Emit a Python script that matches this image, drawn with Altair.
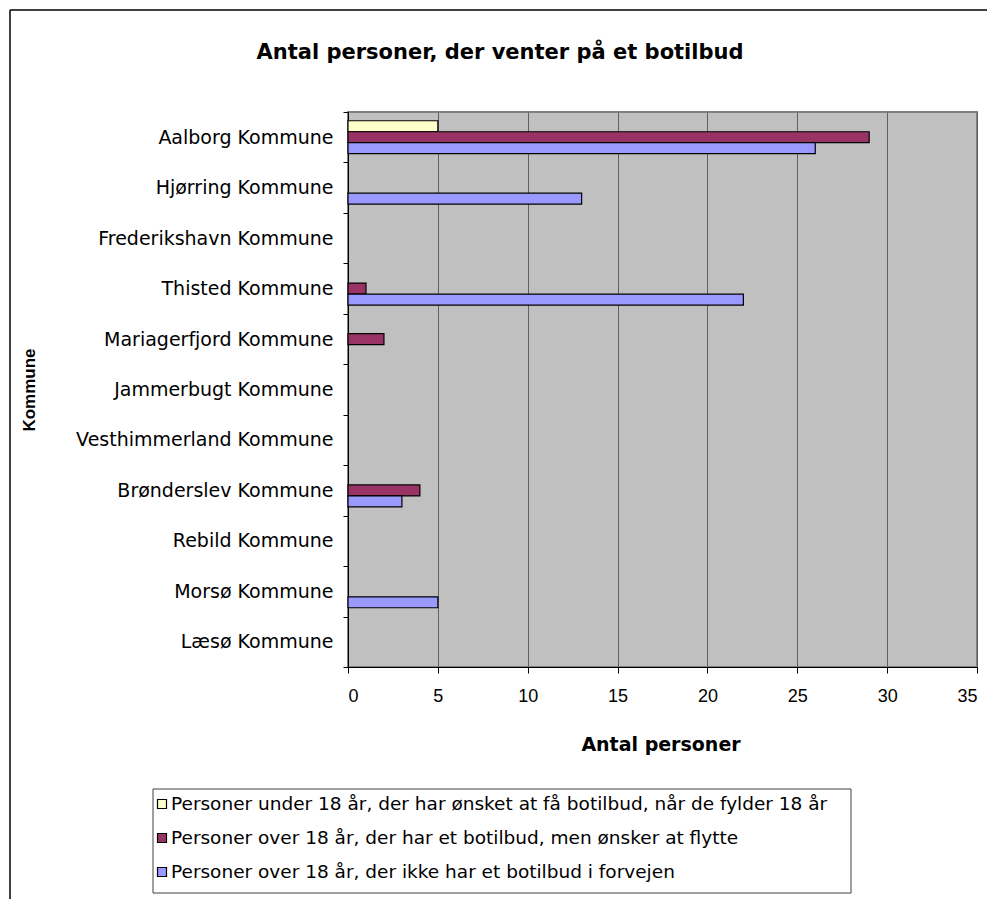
import altair as alt
import pandas as pd

kommuner = ["Aalborg Kommune", "Hjørring Kommune", "Frederikshavn Kommune", "Thisted Kommune",
            "Mariagerfjord Kommune", "Jammerbugt Kommune", "Vesthimmerland Kommune",
            "Brønderslev Kommune", "Rebild Kommune", "Morsø Kommune", "Læsø Kommune"]
series = ["Personer under 18 år, der har ønsket at få botilbud, når de fylder 18 år",
          "Personer over 18 år, der har et botilbud, men ønsker at flytte",
          "Personer over 18 år, der ikke har et botilbud i forvejen"]
under18 = [5, 0, 0, 0, 0, 0, 0, 0, 0, 0, 0]
flytte = [29, 0, 0, 1, 2, 0, 0, 4, 0, 0, 0]
uden = [26, 13, 0, 22, 0, 0, 0, 3, 0, 5, 0]
colors = ["#FFFFCC", "#993366", "#9999FF"]
x_ticks = [0, 5, 10, 15, 20, 25, 30, 35]
title_text = "Antal personer, der venter på et botilbud"
x_title = "Antal personer"
y_title = "Kommune"

rows = []
for vals, s in zip([under18, flytte, uden], series):
    for k, v in zip(kommuner, vals):
        rows.append({"Kommune": k, "Serie": s, "Antal": v})
df = pd.DataFrame(rows)
df_leg = pd.DataFrame({"Serie": series, "row": [0, 1, 2]})

FONT = "Liberation Sans"
WIDE = "DejaVu Sans"
W, H = 629, 555

bars = alt.Chart(df).transform_filter("datum.Antal > 0").mark_bar(
    stroke="black", strokeWidth=1.2
).encode(
    y=alt.Y("Kommune:N", sort=kommuner,
            scale=alt.Scale(domain=kommuner, paddingInner=0, paddingOuter=0),
            axis=alt.Axis(title=y_title, tickBand="extent", domainColor="black",
                          tickColor="black", tickSize=5, labelFont=WIDE, labelFontSize=19,
                          labelPadding=10, labelColor="black", labelLimit=400,
                          titleFont=FONT, titleFontSize=17, titleFontWeight="bold",
                          titleColor="black", titleX=-310, titleY=H / 2, titleAngle=-90,
                          grid=False)),
    yOffset=alt.YOffset("Serie:N", sort=series,
                        scale=alt.Scale(domain=series, paddingInner=0, paddingOuter=0.8)),
    x=alt.X("Antal:Q", scale=alt.Scale(domain=[0, 35], nice=False),
            axis=alt.Axis(title=None, values=x_ticks, grid=True,
                          gridColor="#606060", gridWidth=1, domainColor="black",
                          tickColor="black", tickSize=6, labelFont=FONT, labelFontSize=18,
                          labelPadding=14, labelColor="black")),
    color=alt.Color("Serie:N", sort=series,
                    scale=alt.Scale(domain=series, range=colors), legend=None),
)

one = pd.DataFrame({"a": [1]})

title = alt.Chart(one).mark_text(
    text=title_text, font=WIDE, fontSize=21, fontWeight="bold", align="center",
    baseline="middle", color="black"
).encode(x=alt.value(152), y=alt.value(-59))

xtitle = alt.Chart(one).mark_text(
    text=x_title, font=WIDE, fontSize=19, fontWeight="bold", align="center",
    baseline="middle", color="black"
).encode(x=alt.value(313), y=alt.value(633))

frame_top = alt.Chart(one).mark_rule(color="black", strokeWidth=1.5).encode(
    x=alt.value(-338), x2=alt.value(639), y=alt.value(-102))
frame_left = alt.Chart(one).mark_rule(color="black", strokeWidth=1.5).encode(
    x=alt.value(-338), y=alt.value(-102), y2=alt.value(790))

leg_box = alt.Chart(one).mark_rect(fill="white", stroke="#404040", strokeWidth=1).encode(
    x=alt.value(-195), x2=alt.value(503), y=alt.value(677), y2=alt.value(781))

leg_y = alt.Y("row:Q", scale=alt.Scale(domain=[0, 2], range=[692, 760]), axis=None)

leg_sym = alt.Chart(df_leg).mark_square(size=81, stroke="black", strokeWidth=1.2,
                                        opacity=1, filled=True).encode(
    x=alt.value(-186), y=leg_y,
    color=alt.Color("Serie:N", sort=series, scale=alt.Scale(domain=series, range=colors),
                    legend=None),
)
leg_txt = alt.Chart(df_leg).mark_text(
    align="left", baseline="middle", font=WIDE, fontSize=18.5, color="black"
).encode(x=alt.value(-177), y=leg_y, text="Serie:N")

chart = alt.layer(bars, title, xtitle, frame_top, frame_left,
                  leg_box, leg_sym, leg_txt).resolve_scale(y="independent").properties(
    width=W, height=H,
    autosize=alt.AutoSizeParams(type="none"),
    padding={"left": 340, "top": 104, "right": 10, "bottom": 232},
).configure(font=FONT).configure_view(
    fill="#C0C0C0", stroke="#808080", strokeWidth=2
)

chart.save("out.html", embed_options={"renderer": "svg", "actions": False})
